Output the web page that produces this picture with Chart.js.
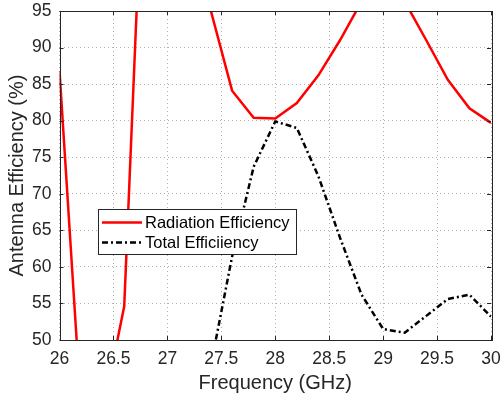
<!DOCTYPE html>
<html lang="en">
<head>
<meta charset="UTF-8">
<title>Antenna Efficiency</title>
<script src="https://cdn.jsdelivr.net/npm/chart.js"></script>
<style>
  body { margin: 0; background: #ffffff; }
  #wrap { width: 504px; height: 401px; }
</style>
</head>
<body>
<div id="wrap"><canvas id="effChart" width="504" height="401"></canvas></div>
<script>
// frequency samples (GHz)
const freq = [26.0, 26.2, 26.4, 26.6, 26.8, 27.0, 27.2, 27.4, 27.6, 27.8, 28.0,
              28.2, 28.4, 28.6, 28.8, 29.0, 29.2, 29.4, 29.6, 29.8, 30.0];
// radiation efficiency (%), points outside 50..95 run off the plot
const radiationEff = [86.8, 40.5, 40.0, 54.6, 125.0, 130.0, 115.0, 95.2, 84.1, 80.4, 80.3,
                      82.4, 86.2, 91.0, 96.3, 98.0, 96.3, 91.0, 85.6, 81.7, 79.7];
// total efficiency (%), below the axis before 27.4 GHz
const totalEff = [null, null, null, null, null, null, null, 46.3, 61.4, 73.7, 79.9,
                  79.0, 72.4, 64.0, 56.2, 51.5, 51.0, 53.3, 55.6, 56.2, 53.2];
const xTicks = [26, 26.5, 27, 27.5, 28, 28.5, 29, 29.5, 30];
const yTicks = [50, 55, 60, 65, 70, 75, 80, 85, 90, 95];

const textColor = '#262626';
const fontFamily = '"Liberation Sans", Arial, sans-serif';

const toPoints = (ys) => freq.map((f, i) => ({ x: f, y: ys[i] }));

// axes box + inward tick marks, like a matlab plot
const boxPlugin = {
  id: 'boxTicks',
  afterDraw(chart) {
    const { ctx, chartArea: a, scales } = chart;
    const len = 4;
    ctx.save();
    ctx.strokeStyle = textColor;
    ctx.lineWidth = 1;
    ctx.beginPath();
    xTicks.forEach(v => {
      const px = Math.round(scales.x.getPixelForValue(v)) + 0.5;
      ctx.moveTo(px, a.bottom); ctx.lineTo(px, a.bottom - len);
      ctx.moveTo(px, a.top); ctx.lineTo(px, a.top + len);
    });
    yTicks.forEach(v => {
      const py = Math.round(scales.y.getPixelForValue(v)) + 0.5;
      ctx.moveTo(a.left, py); ctx.lineTo(a.left + len, py);
      ctx.moveTo(a.right, py); ctx.lineTo(a.right - len, py);
    });
    ctx.stroke();
    ctx.strokeRect(Math.round(a.left) + 0.5, Math.round(a.top) + 0.5,
                   Math.round(a.right - a.left), Math.round(a.bottom - a.top));
    ctx.restore();
  }
};

// legend box sitting inside the plot
const legendPlugin = {
  id: 'innerLegend',
  afterDraw(chart) {
    const ctx = chart.ctx;
    const x0 = 98.5, y0 = 209.5, w = 198, h = 45;
    ctx.save();
    ctx.fillStyle = '#ffffff';
    ctx.fillRect(x0, y0, w, h);
    ctx.strokeStyle = textColor;
    ctx.lineWidth = 1;
    ctx.strokeRect(x0, y0, w, h);
    ctx.font = '16.5px ' + fontFamily;
    ctx.textBaseline = 'middle';
    chart.data.datasets.forEach((ds, i) => {
      const yy = 222.5 + i * 20;
      ctx.strokeStyle = ds.borderColor;
      ctx.lineWidth = ds.borderWidth;
      ctx.setLineDash(ds.borderDash || []);
      ctx.beginPath();
      ctx.moveTo(102, yy);
      ctx.lineTo(142, yy);
      ctx.stroke();
      ctx.setLineDash([]);
      ctx.fillStyle = '#000000';
      ctx.fillText(ds.label, 145, yy + 0.5);
    });
    ctx.restore();
  }
};

const ctx = document.getElementById('effChart').getContext('2d');
const effChart = new Chart(ctx, {
  type: 'line',
  data: {
    datasets: [
      { label: 'Radiation Efficiency', data: toPoints(radiationEff), borderColor: '#ff0000',
        borderWidth: 2.5, pointRadius: 0, tension: 0, clip: 0 },
      { label: 'Total Efficiiency', data: toPoints(totalEff), borderColor: '#000000',
        borderWidth: 2.5, borderDash: [6, 3, 2, 3], pointRadius: 0, tension: 0, clip: 0 }
    ]
  },
  options: {
    responsive: false,
    animation: false,
    layout: { padding: { top: 11, right: 13, left: 0, bottom: 0 } },
    plugins: { legend: { display: false }, tooltip: { enabled: false } },
    scales: {
      x: {
        type: 'linear', min: 26, max: 30,
        afterBuildTicks: s => { s.ticks = xTicks.map(v => ({ value: v })); },
        afterFit: s => { s.height = 61; s.paddingLeft = 0; s.paddingRight = 0; },
        ticks: { color: textColor, font: { family: fontFamily, size: 17.5 }, padding: 9,
                 maxRotation: 0, autoSkip: false, callback: v => String(v) },
        grid: { color: '#b0b0b0', lineWidth: 1, drawTicks: false },
        border: { display: false, dash: [1, 3] },
        title: { display: true, text: 'Frequency (GHz)', color: textColor,
                 font: { family: fontFamily, size: 20 }, padding: { top: 0, bottom: 6 } }
      },
      y: {
        min: 50, max: 95,
        afterBuildTicks: s => { s.ticks = yTicks.map(v => ({ value: v })); },
        afterFit: s => { s.width = 59.5; s.paddingTop = 0; s.paddingBottom = 0; },
        ticks: { color: textColor, font: { family: fontFamily, size: 17.5 }, padding: 8,
                 callback: v => String(v) },
        grid: { color: '#b0b0b0', lineWidth: 1, drawTicks: false },
        border: { display: false, dash: [1, 3] },
        title: { display: true, text: 'Antenna Efficiency (%)', color: textColor,
                 font: { family: fontFamily, size: 20 }, padding: { top: 5, bottom: 0 } }
      }
    }
  },
  plugins: [boxPlugin, legendPlugin]
});
</script>
</body>
</html>
